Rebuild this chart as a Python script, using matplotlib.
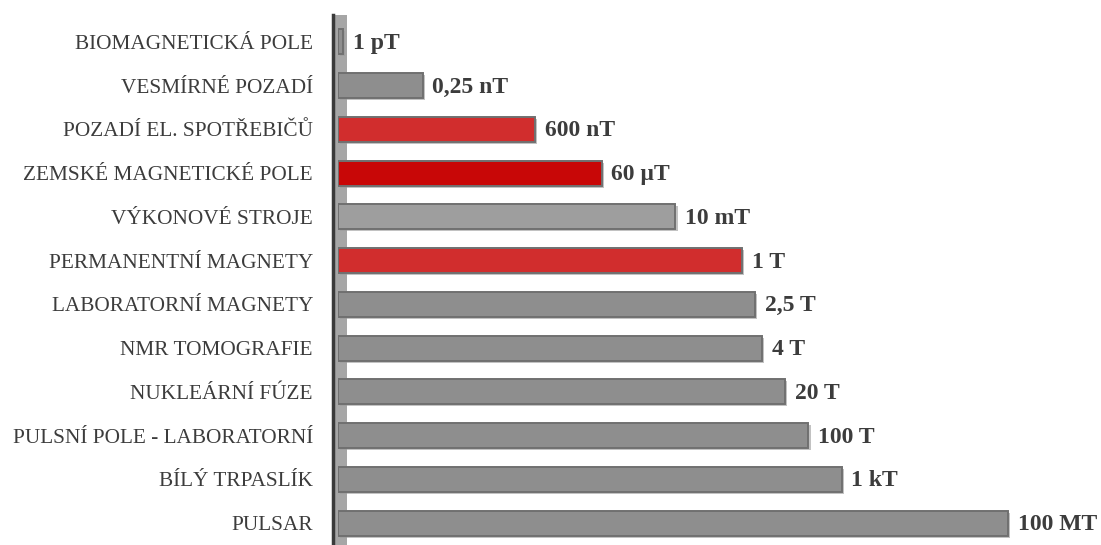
import matplotlib.pyplot as plt
import matplotlib.patheffects as pe
from matplotlib.patches import Rectangle
from matplotlib.lines import Line2D

# data (magnetic field in tesla)
categories = ['BIOMAGNETICKÁ POLE', 'VESMÍRNÉ POZADÍ', 'POZADÍ EL. SPOTŘEBIČŮ',
              'ZEMSKÉ MAGNETICKÉ POLE', 'VÝKONOVÉ STROJE', 'PERMANENTNÍ MAGNETY',
              'LABORATORNÍ MAGNETY', 'NMR TOMOGRAFIE', 'NUKLEÁRNÍ FÚZE',
              'PULSNÍ POLE - LABORATORNÍ', 'BÍLÝ TRPASLÍK', 'PULSAR']
values = [1e-12, 2.5e-10, 6e-7, 6e-5, 1e-2, 1, 2.5, 4, 20, 100, 1e3, 1e8]
value_labels = ['1 pT', '0,25 nT', '600 nT', '60 µT', '10 mT', '1 T',
                '2,5 T', '4 T', '20 T', '100 T', '1 kT', '100 MT']
bar_colors = ['#8e8e8e', '#8e8e8e', '#d12d2d', '#c80707', '#9e9e9e', '#d12d2d',
              '#8e8e8e', '#8e8e8e', '#8e8e8e', '#8e8e8e', '#8e8e8e', '#8e8e8e']

xmin = 10 ** -12.15
xmax = 10 ** 8.06

fig = plt.figure(figsize=(11.01, 5.45), dpi=100)
ax = fig.add_axes([338 / 1101, 0.0, 672 / 1101, 1 - 20 / 545])

y = list(range(len(categories)))
bars = ax.barh(y, [v - xmin for v in values], left=xmin, height=0.57,
               color=bar_colors, edgecolor='#707070', linewidth=1.4, zorder=3)
for b in bars:
    b.set_path_effects([pe.SimplePatchShadow(offset=(1.5, -1.5), shadow_rgbFace='#9a9a9a', alpha=0.6),
                        pe.Normal()])

ax.set_xscale('log')
ax.set_xlim(xmin, xmax)
ax.set_ylim(len(categories) - 0.5, -0.5)

# value labels next to the bars
for yi, v, lab in zip(y, values, value_labels):
    ax.annotate(lab, (v, yi), xytext=(7, -1), textcoords='offset points',
                va='center', ha='left', fontsize=17, fontweight='bold',
                family='Liberation Serif', color='#3c3c3c', annotation_clip=False)

ax.set_yticks(y)
ax.set_yticklabels(categories, family='Liberation Serif', fontsize=15.3, color='#3c3c3c')
ax.tick_params(axis='y', length=0, pad=18)
ax.set_xticks([])
ax.minorticks_off()
ax.tick_params(axis='x', which='both', length=0, labelbottom=False)
for s in ax.spines.values():
    s.set_visible(False)

# 3D wall behind the bars
wall = Rectangle((-4 / 672, 0), 13 / 672, 1.01, transform=ax.transAxes,
                 facecolor='#a6a6a6', edgecolor='none', clip_on=False, zorder=1)
ax.add_patch(wall)
ax.add_line(Line2D([-5 / 672, -5 / 672], [0, 1.01], transform=ax.transAxes,
                   color='#3a3a3a', linewidth=2.5, clip_on=False, zorder=2))

fig.savefig('out.png', dpi=100)
